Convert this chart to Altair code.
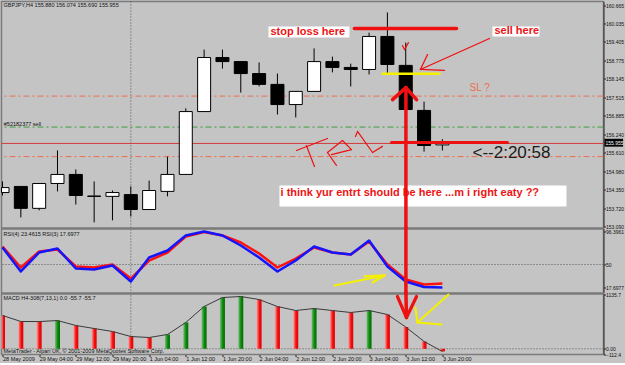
import altair as alt
import pandas as pd

# ---------------- data ----------------
bar_index = list(range(25))
opens  = [154.25, 154.46, 153.71, 154.56, 154.87, 154.13, 154.12, 154.18, 153.67, 154.29, 154.87, 157.02, 158.87,
          158.73, 158.32, 157.95, 157.26, 157.71, 158.73, 158.53, 158.46, 159.59, 158.60, 157.06, 155.880]
highs  = [154.63, 154.46, 154.56, 155.69, 155.04, 154.63, 154.32, 154.46, 154.66, 155.48, 157.13, 159.14, 159.14,
          158.73, 158.70, 158.32, 157.71, 159.18, 158.90, 158.66, 159.72, 160.41, 159.38, 157.36, 156.074]
lows   = [154.15, 153.40, 153.64, 154.29, 153.84, 153.23, 153.30, 153.43, 153.67, 154.12, 154.87, 157.02, 158.49,
          157.67, 157.88, 156.92, 156.82, 157.71, 158.36, 157.88, 158.29, 158.29, 157.06, 155.65, 155.690]
closes = [154.42, 153.71, 154.56, 154.87, 154.15, 154.12, 154.25, 153.67, 154.32, 154.87, 157.02, 158.87, 158.73,
          158.32, 157.95, 157.26, 157.71, 158.73, 158.53, 158.46, 159.59, 158.63, 157.09, 155.86, 155.955]

rsi3 = [73.9, 40.2, 66.9, 72.5, 44.4, 43.0, 48.6, 26.1, 59.9, 69.7, 90.8, 96.4, 90.8, 76.7, 59.9, 40.2, 55.6,
        75.3, 66.9, 64.1, 83.7, 47.2, 26.1, 18.4, 17.70]
rsi4 = [75.3, 45.8, 68.3, 71.1, 47.2, 45.8, 50.0, 30.3, 55.6, 66.9, 89.4, 95.5, 90.8, 80.9, 65.5, 45.8, 58.4,
        73.9, 66.9, 64.1, 82.3, 50.0, 28.9, 21.9, 23.46]

macd = [696, 571, 569, 591, 487, 424, 362, 257, 236, 299, 550, 884, 1072, 1093, 1030, 884, 800, 842, 800, 759,
        800, 717, 456, 153, -55.7]
macd_dir = ["dn", "dn", "dn", "up", "dn", "dn", "dn", "dn", "dn", "up", "up", "up", "up", "up", "dn", "dn", "dn",
            "up", "dn", "dn", "up", "dn", "dn", "dn", "dn"]

time_label_pos = [0, 2, 4, 6, 8, 10, 12, 14, 16, 18, 20, 22, 24]
time_labels = ["28 May 2009", "29 May 04:00", "29 May 12:00", "29 May 20:00", "1 Jun 04:00", "1 Jun 12:00",
               "1 Jun 20:00", "2 Jun 04:00", "2 Jun 12:00", "2 Jun 20:00", "3 Jun 04:00", "3 Jun 12:00",
               "3 Jun 20:00"]

price_ticks = [160.665, 160.035, 159.405, 158.775, 158.145, 157.515, 156.885, 156.240, 155.610, 154.980,
               154.350, 153.720, 153.090]
rsi_ticks = [96.3961, 50, 17.6977]
macd_ticks = [1135.7, 0.0, -112.4]

# horizontal order / level lines in price window
level_prices = [157.55, 156.49, 155.48]
level_colors = ["#ee6e4c", "#3f9f3f", "#ee6e4c"]
order_line_price = [155.93]
bid_price = 155.955
grid_bar = [7]

# hand-drawn annotations (bar index, value) -- price window
pa_x  = [19.20, 26.57, 22.80, 22.80, 21.82, 21.93, 20.73, 22.01, 22.01, 22.01, 21.22,
         16.04, 16.58, 17.73, 17.73, 18.55, 19.04, 19.26, 19.37, 20.19]
pa_y  = [159.86, 159.52, 158.46, 158.46, 159.28, 159.14, 158.31, 157.84, 157.84, 157.84, 155.96,
         155.69, 155.86, 155.62, 155.62, 156.03, 155.72, 156.17, 156.34, 155.62]
pa_x2 = [24.77, 22.80, 23.19, 24.11, 21.93, 22.15, 23.84, 22.01, 21.28, 22.59, 27.55,
         17.73, 17.02, 18.22, 18.55, 19.04, 17.95, 19.37, 20.19, 20.73]
pa_y2 = [159.86, 158.46, 158.97, 158.43, 159.14, 159.38, 158.31, 153.06, 157.43, 157.43, 155.96,
         156.10, 155.14, 155.18, 156.03, 155.72, 155.55, 156.34, 155.62, 155.83]
pa_w  = [3.5, 1.3, 1.3, 1.3, 1.2, 1.2, 2.5, 3.5, 3.5, 3.5, 3.0,
         1.2, 1.2, 1.2, 1.2, 1.2, 1.2, 1.2, 1.2, 1.2]
pa_c  = ["#ee1111"] * 6 + ["#f4f000"] + ["#ee1111"] * 13

# RSI window annotations
ra_x  = [22.01, 18.11, 20.84, 20.84]
ra_y  = [9.0, 20.5, 34.6, 34.6]
ra_x2 = [22.01, 20.84, 19.75, 20.19]
ra_y2 = [101.8, 34.6, 33.2, 24.7]
ra_w  = [3.5, 2.2, 2.2, 2.2]
ra_c  = ["#ee1111", "#f4f000", "#f4f000", "#f4f000"]

# MACD window annotations
ma_x  = [22.01, 21.55, 22.59, 24.33, 22.64, 22.64]
ma_y  = [1180, 1093, 1093, 1135, 550, 550]
ma_x2 = [22.04, 22.04, 22.04, 22.64, 23.95, 22.53]
ma_y2 = [654, 654, 654, 550, 508, 863]
ma_w  = [3.5, 3.2, 3.2, 2.0, 2.0, 2.0]
ma_c  = ["#ee1111", "#ee1111", "#ee1111", "#f4f000", "#f4f000", "#f4f000"]

# white note boxes
box_x  = [14.51, 26.73, 15.11]
box_x2 = [18.93, 29.30, 30.77]
box_y  = [159.55, 159.59, 153.77]
box_y2 = [159.93, 159.93, 154.49]
note_x = [14.62, 26.84, 15.17]
note_y = [159.74, 159.76, 154.25]
note_t = ["stop loss here", "sell here", "i think yur entrt should be here ...m i right eaty ??"]

# ---------------- geometry ----------------
X_DOM = [-0.0546, 32.79]
P_DOM = [153.055, 160.785]
R_DOM = [10.67, 100.6]
M_DOM = [-119.1, 1155.8]
P_RANGE = [226, 0]
R_RANGE = [291, 227]
M_RANGE = [353, 292]
P_SEP = [153.064, 152.978]     # window separator under the price window (price units)
R_SEP = [11.02, 7.51]          # window separator under the RSI window (RSI units)
W, H = 602, 353
BG = "#c4c4c4"
FONT = "Liberation Sans"
HALF_BODY = 0.355
HALF_HIST = 0.136
SEP = "#7a7a7a"

label_js = "[" + ",".join("'" + s + "'" for s in time_labels) + "]"
X_AXIS = alt.Axis(orient="bottom", values=time_label_pos, labelExpr=label_js + "[round(datum.value/2)]",
                  tickSize=2, tickColor="#222", labelAlign="left", labelPadding=0, labelFontSize=5.5,
                  labelFont=FONT, labelColor="#111", domain=False, grid=False, title=None,
                  labelFlush=False, labelOverlap=False)


def xq(field):
    return alt.X(f"{field}:Q", scale=alt.Scale(domain=X_DOM, nice=False, zero=False), axis=X_AXIS)


def right_axis(values, expr):
    return alt.Axis(orient="right", values=values, labelExpr=expr, tickSize=2, tickColor="#222",
                    labelPadding=0, labelFontSize=5, labelFont=FONT, labelColor="#111", domainColor="#333",
                    grid=False, title=None, labelOverlap=False, labelFlush=False, labelBound=False)


P_AXIS = right_axis(price_ticks, "format(datum.value, '.3f')")
R_AXIS = right_axis(rsi_ticks, "datum.value == 50 ? '50' : format(datum.value, '.4f')")
M_AXIS = right_axis(macd_ticks, "datum.value == 0 ? '0.00' : format(datum.value, '.1f')")


def py(f):
    return alt.Y(f"{f}:Q", scale=alt.Scale(domain=P_DOM, range=P_RANGE, nice=False, zero=False), axis=P_AXIS)


def ry(f):
    return alt.Y(f"{f}:Q", scale=alt.Scale(domain=R_DOM, range=R_RANGE, nice=False, zero=False), axis=R_AXIS)


def my(f):
    return alt.Y(f"{f}:Q", scale=alt.Scale(domain=M_DOM, range=M_RANGE, nice=False, zero=False), axis=M_AXIS)


def segments(xs, ys, x2s, y2s, ws, cs, yfun):
    df = pd.DataFrame({"x": xs, "y": ys, "x2": x2s, "y2": y2s, "w": ws, "c": cs})
    return alt.Chart(df).mark_rule(strokeCap="round").encode(
        x=xq("x"), y=yfun("y"), x2="x2:Q", y2="y2:Q",
        strokeWidth=alt.StrokeWidth("w:Q", scale=None), color=alt.Color("c:N", scale=None))


def label(x, y, t, yfun, size, color="#111", weight="normal"):
    df = pd.DataFrame({"x": x, "y": y, "t": t})
    return alt.Chart(df).mark_text(align="left", baseline="middle", font=FONT, fontSize=size, color=color,
                                   fontWeight=weight).encode(x=xq("x"), y=yfun("y"), text="t:N")


def hline(values, yfun, **kw):
    return alt.Chart(pd.DataFrame({"y": values})).mark_rule(**kw).encode(y=yfun("y"))


def band(limits, yfun):
    return alt.Chart(pd.DataFrame({"y": [limits[0]], "y2": [limits[1]]})).mark_rect(color=SEP).encode(
        y=yfun("y"), y2="y2:Q")


vgrid = alt.Chart(pd.DataFrame({"x": grid_bar})).mark_rule(color="#555", strokeDash=[1, 2],
                                                            strokeWidth=1).encode(x=xq("x"))

# ---------------- price window ----------------
candles = pd.DataFrame({"i": bar_index, "o": opens, "h": highs, "l": lows, "c": closes})
candles["fill"] = ["#ffffff" if c >= o else "#000000" for o, c in zip(opens, closes)]

lv = alt.Chart(pd.DataFrame({"y": level_prices, "c": level_colors})).mark_rule(
    strokeWidth=1, strokeDash=[6, 3, 2, 3]).encode(y=py("y"), color=alt.Color("c:N", scale=None))
order_ln = hline(order_line_price, py, color="#d23c3c", strokeWidth=1)

wicks = alt.Chart(candles).mark_rule(color="#000", strokeWidth=1).encode(x=xq("i"), y=py("l"), y2="h:Q")
bodies = alt.Chart(candles).transform_calculate(
    x1=f"max(datum.i - {HALF_BODY}, {X_DOM[0]})", x2=f"datum.i + {HALF_BODY}"
).mark_rect(stroke="#000", strokeWidth=1).encode(
    x=xq("x1"), x2="x2:Q", y=py("o"), y2="c:Q", color=alt.Color("fill:N", scale=None))

boxes = alt.Chart(pd.DataFrame({"x": box_x, "x2": box_x2, "y": box_y, "y2": box_y2})).mark_rect(
    color="#ffffff").encode(x=xq("x"), x2="x2:Q", y=py("y"), y2="y2:Q")
notes = label(note_x, note_y, note_t, py, 11, "#ee1414", "bold")
timer = label([25.64], [155.62], ["<--2:20:58"], py, 17, "#1c1c1c")
sl_q = label([25.48], [157.84], ["SL ?"], py, 10, "#ee6e4c")
head_p = label([0.055, 0.07], [160.67, 156.58],
               ["GBPJPY,H4  155.880 156.074 155.690 155.955", "#52182377 sell"], py, 5.5, "#111")

bid_box = alt.Chart(pd.DataFrame({"x": [32.84], "x2": [33.86], "y": [156.09], "y2": [155.82]})).mark_rect(
    color="#000").encode(x=xq("x"), x2="x2:Q", y=py("y"), y2="y2:Q")
bid_txt = label([32.90], [bid_price], [f"{bid_price:.3f}"], py, 5, "#ffffff")

price_ann = segments(pa_x, pa_y, pa_x2, pa_y2, pa_w, pa_c, py)

price = alt.layer(band(P_SEP, py), lv, order_ln, wicks, bodies, boxes, notes, price_ann, timer, sl_q, head_p,
                  bid_box, bid_txt)

# ---------------- RSI window ----------------
rsi_df = pd.DataFrame({"i": bar_index, "r3": rsi3, "r4": rsi4})
r50 = hline([50], ry, color="#555", strokeDash=[1, 2])
r_red = alt.Chart(rsi_df).mark_line(color="#ff1010", strokeWidth=2.5).encode(x=xq("i"), y=ry("r4"))
r_blue = alt.Chart(rsi_df).mark_line(color="#1414ff", strokeWidth=2.5).encode(x=xq("i"), y=ry("r3"))
head_r = label([0.055], [92.2], ["RSI(4) 23.4615  RSI(3) 17.6977"], ry, 5.5, "#111")
rsi_ann = segments(ra_x, ra_y, ra_x2, ra_y2, ra_w, ra_c, ry)

rsi = alt.layer(band(R_SEP, ry), r50, r_red, r_blue, head_r, rsi_ann)

# ---------------- MACD window ----------------
macd_df = pd.DataFrame({"i": bar_index, "m": macd, "d": macd_dir})
red_grad = alt.Gradient(gradient="linear", x1=0, x2=1, y1=0, y2=0,
                        stops=[alt.GradientStop(color="#ff9c9c", offset=0),
                               alt.GradientStop(color="#f01010", offset=0.55),
                               alt.GradientStop(color="#e00000", offset=1)])
green_grad = alt.Gradient(gradient="linear", x1=0, x2=1, y1=0, y2=0,
                          stops=[alt.GradientStop(color="#74c074", offset=0),
                                 alt.GradientStop(color="#0c860c", offset=0.55),
                                 alt.GradientStop(color="#006e00", offset=1)])
m0 = hline([0], my, color="#555", strokeDash=[1, 2])


def hist(direction, grad):
    return alt.Chart(macd_df).transform_filter(f"datum.d == '{direction}'").transform_calculate(
        x1=f"max(datum.i - {HALF_HIST}, {X_DOM[0]})", x2=f"datum.i + {HALF_HIST}"
    ).mark_rect(color=grad).encode(x=xq("x1"), x2="x2:Q", y=my("m"), y2=alt.datum(0))


m_red = hist("dn", red_grad)
m_green = hist("up", green_grad)
m_line = alt.Chart(macd_df).mark_line(color="#3a3a3a", strokeWidth=1).encode(x=xq("i"), y=my("m"))
head_m = label([0.055, 0.055], [1062, -40],
               ["MACD H4-308(7,13,1) 0.0 -55.7 -55.7",
                "MetaTrader - Alpari UK, \u00a9 2001-2009 MetaQuotes Software Corp."], my, 5.5, "#111")
macd_ann = segments(ma_x, ma_y, ma_x2, ma_y2, ma_w, ma_c, my)

macd_panel = alt.layer(m0, m_red, m_green, m_line, head_m, macd_ann)

chart = alt.layer(vgrid, price, rsi, macd_panel).resolve_scale(y="independent").properties(
    width=W, height=H, background=BG, padding={"left": 0.5, "top": 0.5, "right": 0, "bottom": 0}
).configure_view(stroke="#7c7c7c", strokeWidth=1.5, strokeJoin="round"
).configure_mark(strokeJoin="round")

chart.save("out.html", embed_options={"renderer": "svg", "actions": False})
